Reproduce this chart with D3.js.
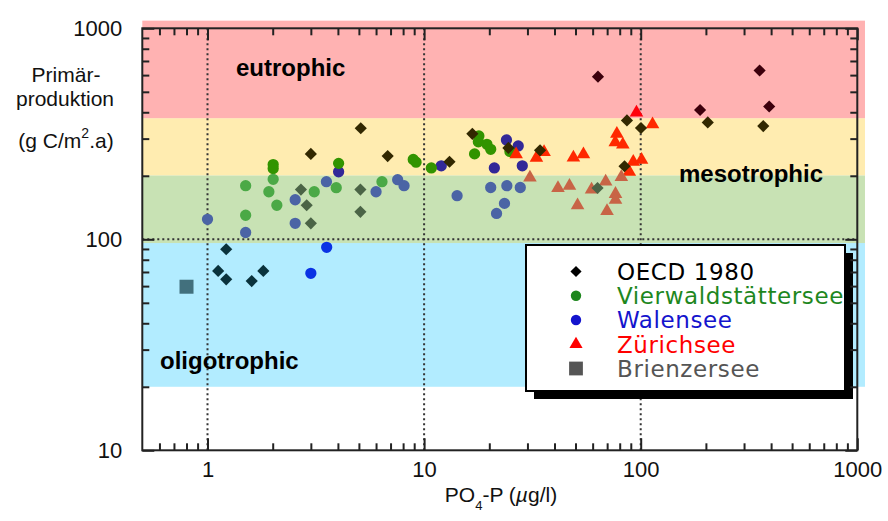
<!DOCTYPE html>
<html>
<head>
<meta charset="utf-8">
<script src="https://cdn.jsdelivr.net/npm/d3@7"></script>
<style>
  body { margin: 0; background: #fff; }
  svg { display: block; }
</style>
</head>
<body>
<svg id="chart" width="888" height="521"></svg>
<script>
// PO4-P (µg/l) vs Primärproduktion (g C/m2.a)
var oecdX = [1.22, 1.12, 1.22, 1.60, 1.81, 3.0, 2.70, 2.87, 3.0, 5.10, 5.08, 5.08, 6.79, 13.1, 16.7, 24.5, 34.3, 63.2, 84.2, 86.4, 100.3, 63.5, 188, 204, 354, 392, 368];
var oecdY = [89.7, 70.8, 64.6, 63.4, 70.8, 254, 172, 145, 119, 336, 172, 135, 248, 233, 316, 271, 264, 175, 222, 366, 337, 590, 410, 358, 631, 426, 344];

var vierX = [1.50, 1.50, 2.01, 2.01, 2.01, 1.92, 2.09, 3.11, 3.93, 4.03, 6.39, 8.91, 9.18, 10.8, 17.9, 17.8, 19.5, 20.3, 17.1, 24.9];
var vierY = [179.5, 130, 226, 216.5, 192.5, 168, 145, 168, 175.6, 229, 187.5, 239, 232, 218, 309, 290, 282, 267, 254, 261];

var walenX = [1.0, 1.50, 2.54, 2.54, 3.54, 4.03, 3.55, 3.0, 7.55, 8.08, 6.0, 12.0, 14.2, 21.1, 20.3, 21.6, 24.0, 27.2, 28.4, 24.1, 27.8, 23.5];
var walenY = [124.4, 107.7, 154, 119, 187.5, 209, 91.6, 69, 191.6, 179.5, 168, 223, 161, 218, 176, 132.6, 295.5, 277, 223, 179.5, 176, 148];

var zurichX = [26.6, 33.0, 35.8, 48.9, 54.4, 77.6, 76.3, 82.7, 95.6, 113.4, 92.4, 100.9, 88.6, 30.8, 41.5, 46.9, 59.3, 68.9, 81.4, 76.5, 76.5, 51.1, 69.9];
var zurichY = [253, 243, 259, 244, 253, 316, 288, 281, 399, 351, 233, 238, 209, 196, 175, 179, 172, 187.5, 197, 164, 154, 145, 136];

var brienzX = [0.8];
var brienzY = [59.6];

// trophic bands (g C/m2.a)
var bandNames = ["oligotrophic", "mesoLow", "mesoHigh", "eutrophic"];
var bandLo = [20, 96, 201, 375];
var bandHi = [96, 201, 375, 1087];

var xTicks = [1, 10, 100, 1000];
var yTicks = [10, 100, 1000];

var seriesNames = ["OECD 1980", "Vierwaldstättersee", "Walensee", "Zürichsee", "Brienzersee"];

// ---------------------------------------------------------------
var svg = d3.select("#chart");
var font = "'Liberation Sans', Arial, Helvetica, sans-serif";

var x = d3.scaleLog().domain([0.5, 1000]).range([142.3, 857.3]);
var y = d3.scaleLog().domain([10, 1000]).range([450.3, 28.3]);

// light colour of each band and the colour black takes under it
var bandLight = ["rgb(178,236,255)", "rgb(200,226,180)", "rgb(255,236,176)", "rgb(255,178,178)"];
var bandDark = ["rgb(10,50,60)", "rgb(75,100,70)", "rgb(50,40,0)", "rgb(60,0,12)"];

function bandOf(v) {
  for (var i = 0; i < bandLo.length; i++) {
    if (v >= bandLo[i] && v < bandHi[i]) return i;
  }
  return -1;
}

// points show through the tinted bands
function tint(col, v) {
  var i = bandOf(v);
  if (i < 0) return col;
  var c = d3.rgb(col), k = d3.rgb(bandDark[i]), w = d3.rgb(bandLight[i]);
  return d3.rgb(
    k.r + (w.r - k.r) * c.r / 255,
    k.g + (w.g - k.g) * c.g / 255,
    k.b + (w.b - k.b) * c.b / 255
  ).toString();
}

// bands
svg.append("g")
  .selectAll("rect")
  .data(bandLo)
  .enter()
  .append("rect")
  .attr("x", x(0.5))
  .attr("width", x(1085) - x(0.5))
  .attr("y", (d, i) => y(bandHi[i]))
  .attr("height", (d, i) => y(d) - y(bandHi[i]))
  .attr("fill", (d, i) => bandLight[i]);

// dotted grid
var grid = svg.append("g")
  .attr("stroke", "#333")
  .attr("stroke-width", 2)
  .attr("stroke-dasharray", "2,3");
[1, 10, 100].forEach(v => {
  grid.append("line")
    .attr("x1", x(v)).attr("x2", x(v))
    .attr("y1", y(10)).attr("y2", y(1000));
});
grid.append("line")
  .attr("x1", x(0.5)).attr("x2", x(1000))
  .attr("y1", y(100)).attr("y2", y(100));

// points
var plot = svg.append("g");

function drawSeries(xs, ys, type, size, col, rot) {
  var sym = d3.symbol().type(type).size(size);
  plot.append("g")
    .selectAll("path")
    .data(xs)
    .enter()
    .append("path")
    .attr("d", sym)
    .attr("transform", (d, i) => "translate(" + x(d) + "," + y(ys[i]) + ")" + (rot ? " rotate(45)" : ""))
    .attr("fill", (d, i) => tint(col, ys[i]));
}

drawSeries(walenX, walenY, d3.symbolCircle, 100, "rgb(0,0,220)", false);
drawSeries(vierX, vierY, d3.symbolCircle, 100, "rgb(0,140,0)", false);
drawSeries(zurichX, zurichY, d3.symbolTriangle, 80, "rgb(255,0,0)", false);
drawSeries(oecdX, oecdY, d3.symbolSquare, 74, "rgb(0,0,0)", true);
drawSeries(brienzX, brienzY, d3.symbolSquare, 196, "rgb(85,85,85)", false);

// band labels
var lbl = svg.append("g")
  .attr("font-family", font)
  .attr("font-weight", "bold")
  .attr("font-size", 24)
  .attr("fill", "#000");
lbl.append("text").attr("x", 236).attr("y", 76).text("eutrophic");
lbl.append("text").attr("x", 679).attr("y", 182).text("mesotrophic");
lbl.append("text").attr("x", 160).attr("y", 369).text("oligotrophic");

// legend
var lg = svg.append("g");
lg.append("rect").attr("x", 534).attr("y", 253).attr("width", 319).attr("height", 146).attr("fill", "#000");
lg.append("rect").attr("x", 526).attr("y", 245).attr("width", 319).attr("height", 146)
  .attr("fill", "#fff").attr("stroke", "#000").attr("stroke-width", 2);

var legCols = ["#000", "rgb(30,135,30)", "rgb(20,20,205)", "rgb(255,0,0)", "#555"];
var legSyms = [d3.symbolSquare, d3.symbolCircle, d3.symbolCircle, d3.symbolTriangle, d3.symbolSquare];
var legSizes = [62, 85, 85, 75, 190];
var rowY = d3.scaleLinear().domain([0, 4]).range([271.5, 368.5]);

seriesNames.forEach((name, i) => {
  lg.append("path")
    .attr("d", d3.symbol().type(legSyms[i]).size(legSizes[i]))
    .attr("transform", "translate(576," + rowY(i) + ")" + (i === 0 ? " rotate(45)" : ""))
    .attr("fill", legCols[i]);
  lg.append("text")
    .attr("x", 617)
    .attr("y", rowY(i))
    .attr("dy", "0.36em")
    .attr("font-family", "'DejaVu Sans', Verdana, sans-serif")
    .attr("font-size", 23)
    .attr("letter-spacing", 0.6)
    .attr("fill", legCols[i])
    .text(name);
});

// frame and ticks
function minors(lo, hi) {
  var out = [];
  for (var p = -1; p < 3; p++) {
    for (var m = 2; m <= 9; m++) {
      var v = m * Math.pow(10, p);
      if (v > lo && v < hi) out.push(v);
    }
  }
  return out;
}
var xMinor = minors(0.5, 1000);
var yMinor = minors(10, 1000);

function styleAxis(g) {
  g.select(".domain").remove();
  g.selectAll(".tick line").attr("stroke", "#222").attr("stroke-width", 2);
  g.selectAll("text").attr("font-family", font).attr("font-size", 22).attr("fill", "#111");
}

var fmt = d3.format("d");
svg.append("g").attr("transform", "translate(0," + y(10) + ")")
  .call(d3.axisBottom(x).tickValues(xTicks).tickSize(-12).tickSizeOuter(0).tickPadding(11).tickFormat(fmt))
  .call(styleAxis);
svg.append("g").attr("transform", "translate(0," + y(10) + ")")
  .call(d3.axisBottom(x).tickValues(xMinor).tickSize(-7).tickSizeOuter(0).tickFormat(""))
  .call(styleAxis);
svg.append("g").attr("transform", "translate(0," + y(1000) + ")")
  .call(d3.axisTop(x).tickValues(xTicks).tickSize(-12).tickSizeOuter(0).tickFormat(""))
  .call(styleAxis);
svg.append("g").attr("transform", "translate(0," + y(1000) + ")")
  .call(d3.axisTop(x).tickValues(xMinor).tickSize(-7).tickSizeOuter(0).tickFormat(""))
  .call(styleAxis);
svg.append("g").attr("transform", "translate(" + x(0.5) + ",0)")
  .call(d3.axisLeft(y).tickValues(yTicks).tickSize(-12).tickSizeOuter(0).tickPadding(20).tickFormat(fmt))
  .call(styleAxis);
svg.append("g").attr("transform", "translate(" + x(0.5) + ",0)")
  .call(d3.axisLeft(y).tickValues(yMinor).tickSize(-7).tickSizeOuter(0).tickFormat(""))
  .call(styleAxis);
svg.append("g").attr("transform", "translate(" + x(1000) + ",0)")
  .call(d3.axisRight(y).tickValues(yTicks).tickSize(-12).tickSizeOuter(0).tickFormat(""))
  .call(styleAxis);
svg.append("g").attr("transform", "translate(" + x(1000) + ",0)")
  .call(d3.axisRight(y).tickValues(yMinor).tickSize(-7).tickSizeOuter(0).tickFormat(""))
  .call(styleAxis);

svg.append("rect")
  .attr("x", x(0.5)).attr("y", y(1000))
  .attr("width", x(1000) - x(0.5)).attr("height", y(10) - y(1000))
  .attr("fill", "none").attr("stroke", "#222").attr("stroke-width", 2);

// axis titles
var yt = svg.append("g")
  .attr("font-family", font)
  .attr("font-size", 21)
  .attr("fill", "#111")
  .attr("text-anchor", "middle");
yt.append("text").attr("x", 66).attr("y", 82).text("Primär-");
yt.append("text").attr("x", 65).attr("y", 106).text("produktion");
var t3 = yt.append("text").attr("x", 66).attr("y", 148);
t3.append("tspan").text("(g C/m");
t3.append("tspan").attr("font-size", 14).attr("dy", -10).text("2");
t3.append("tspan").attr("dy", 10).text(".a)");

var xt = svg.append("text")
  .attr("x", 501).attr("y", 502)
  .attr("font-family", font)
  .attr("font-size", 21)
  .attr("fill", "#111")
  .attr("text-anchor", "middle");
xt.append("tspan").text("PO");
xt.append("tspan").attr("font-size", 13).attr("dy", 8).text("4");
xt.append("tspan").attr("dy", -8).text("-P (");
xt.append("tspan").attr("font-style", "italic").text("µ");
xt.append("tspan").text("g/l)");
</script>
</body>
</html>
